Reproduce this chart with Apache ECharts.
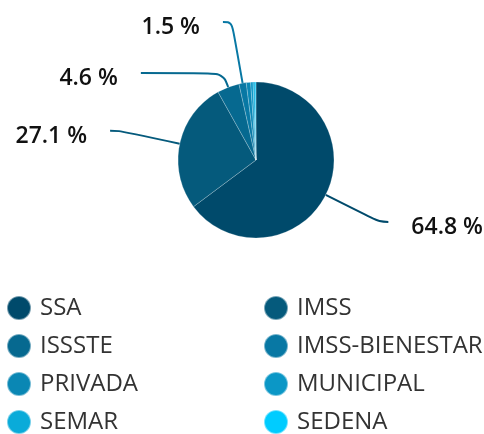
<!DOCTYPE html>
<html>
<head>
<meta charset="utf-8">
<script src="https://cdn.jsdelivr.net/npm/echarts@6/dist/echarts.min.js"></script>
<style>
  html, body { margin: 0; padding: 0; background: #fff; }
  #chart { width: 484px; height: 434px; }
</style>
</head>
<body>
<div id="chart"></div>
<script>
// institutions, in pie order (clockwise from 12 o'clock)
var categories = ['SSA', 'IMSS', 'ISSSTE', 'IMSS-BIENESTAR', 'PRIVADA', 'MUNICIPAL', 'SEMAR', 'SEDENA']
var shares = [64.8, 27.1, 4.6, 1.5, 0.9, 0.5, 0.4, 0.2]
var colors = ['#004a6b', '#055a7c', '#066990', '#0878a4', '#0a87b4', '#0b97c6', '#0aabd9', '#00ccff']
var legendLeft = ['SSA', 'ISSSTE', 'PRIVADA', 'SEMAR']
var legendRight = ['IMSS', 'IMSS-BIENESTAR', 'MUNICIPAL', 'SEDENA']

// label line lengths per slice (only the 4 big ones get a label)
var lineLen = [[60, 9], [62, 9], [15, 82], [62, 9]]

var chart = echarts.init(document.getElementById('chart'))

var legendStyle = {
  orient: 'vertical',
  top: 290,
  height: 144,
  icon: 'circle',
  itemWidth: 24,
  itemHeight: 24,
  itemGap: 12,
  textStyle: {
    fontFamily: 'Open Sans',
    fontSize: 24,
    fontWeight: 500,
    color: '#333',
    padding: [0, 0, 0, 4]
  },
  selectedMode: false
}

chart.setOption({
  color: colors,
  animation: false,
  legend: [
    Object.assign({ left: 1, data: legendLeft }, legendStyle),
    Object.assign({ left: 258, data: legendRight }, legendStyle)
  ],
  series: [{
    type: 'pie',
    center: [256, 160],
    radius: 78,
    startAngle: 90,
    clockwise: true,
    avoidLabelOverlap: false,
    itemStyle: {
      borderColor: 'rgba(255,255,255,0.45)',
      borderWidth: 0.5
    },
    label: {
      formatter: function (p) { return '{v|' + p.value.toFixed(1) + ' %}' },
      rich: {
        v: {
          fontFamily: 'Open Sans',
          fontWeight: 600,
          fontSize: 23,
          color: '#111',
          padding: [11, 0, 0, 0]
        }
      },
      distanceToLabelLine: 23
    },
    labelLine: {
      smooth: 0.4,
      lineStyle: { width: 2 }
    },
    emphasis: { disabled: true },
    data: categories.map(function (name, i) {
      var item = { name: name, value: shares[i] }
      if (i < lineLen.length) {
        item.labelLine = { length: lineLen[i][0], length2: lineLen[i][1] }
      } else {
        item.label = { show: false }
        item.labelLine = { show: false }
      }
      return item
    })
  }]
})
</script>
</body>
</html>
